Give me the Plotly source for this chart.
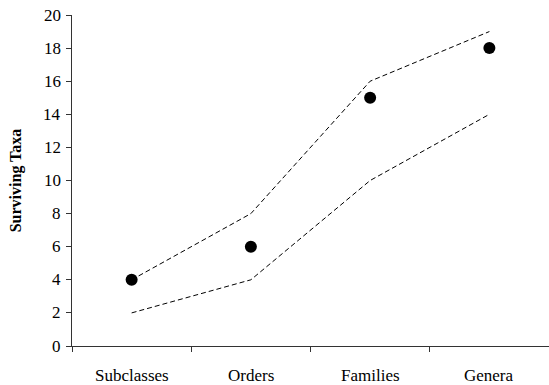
import plotly.graph_objects as go

categories = ["Subclasses", "Orders", "Families", "Genera"]
observed = [4, 6, 15, 18]
upper_bound = [4, 8, 16, 19]
lower_bound = [2, 4, 10, 14]
y_ticks = list(range(0, 21, 2))

fig = go.Figure()

dash_style = dict(color="black", width=1, dash="5px,3px")
fig.add_trace(go.Scatter(x=categories, y=upper_bound, mode="lines",
                         line=dash_style, showlegend=False, hoverinfo="skip"))
fig.add_trace(go.Scatter(x=categories, y=lower_bound, mode="lines",
                         line=dash_style, showlegend=False, hoverinfo="skip"))
fig.add_trace(go.Scatter(x=categories, y=observed, mode="markers",
                         marker=dict(color="black", size=12, line=dict(width=0)),
                         showlegend=False))

serif = "Liberation Serif"
label_font = dict(family=serif, size=17, color="#000")

# Tick labels are placed as text annotations tied to the axes
for cat in categories:
    fig.add_annotation(x=cat, xref="x", y=0, yref="paper", yanchor="middle",
                       yshift=-29, text=cat, showarrow=False, font=label_font)
for v in y_ticks:
    fig.add_annotation(x=0, xref="paper", xanchor="right", xshift=-9,
                       y=v, yref="y", yanchor="middle", text=str(v),
                       showarrow=False, font=label_font)

fig.update_layout(
    width=549, height=385,
    margin=dict(l=72, r=0, t=15, b=39),
    paper_bgcolor="white", plot_bgcolor="white",
    font=dict(family=serif, color="#000"),
    xaxis=dict(
        type="category", range=[-0.5, 3.5],
        showline=True, linecolor="#333", linewidth=1,
        showgrid=False, zeroline=False,
        ticks="outside", ticklen=5, tickcolor="#333",
        tickson="boundaries", showticklabels=False,
    ),
    yaxis=dict(
        range=[0, 20], tickvals=y_ticks,
        showline=True, linecolor="#333", linewidth=1,
        showgrid=False, zeroline=False,
        ticks="outside", ticklen=5, tickcolor="#333",
        showticklabels=False,
        title=dict(text="<b>Surviving Taxa</b>",
                   font=dict(family=serif, size=16, color="#000"),
                   standoff=40),
    ),
)

fig.write_html("out.html")
